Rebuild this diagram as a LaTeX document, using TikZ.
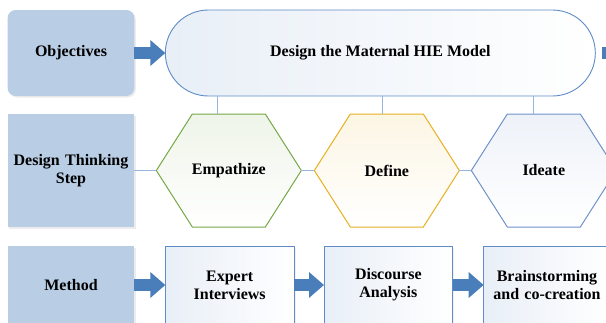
\documentclass[tikz,border=0pt]{standalone}
\usepackage{fontspec}
\setmainfont{Liberation Serif}
\usetikzlibrary{positioning, calc, shadows, arrows.meta, backgrounds}
\definecolor{headblue}{RGB}{185, 205, 229}
\definecolor{arrowblue}{RGB}{74, 126, 187}
\definecolor{outlineblue}{RGB}{95, 140, 198}
\definecolor{linkblue}{RGB}{150, 182, 220}
\definecolor{empgreen}{RGB}{118, 168, 70}
\definecolor{defgold}{RGB}{232, 176, 32}
\definecolor{ideblue}{RGB}{112, 146, 200}
\tikzstyle{rowhead} = [rectangle, minimum width=126pt, text centered, text width=120pt, outer sep=0pt, fill=headblue, drop shadow={opacity=0.15, shadow xshift=1.5pt, shadow yshift=-1.5pt}, font=\bfseries\fontsize{16}{18}\selectfont]
\tikzstyle{goal} = [rectangle, rounded corners=43pt, minimum width=430pt, minimum height=86pt, outer sep=0pt, draw=outlineblue, line width=0.9pt, left color=outlineblue!14, right color=white, font=\bfseries\fontsize{16}{18}\selectfont]
\tikzstyle{phase} = [rectangle, minimum width=145pt, minimum height=113pt, outer sep=0pt, font=\bfseries\fontsize{16}{18}\selectfont]
\tikzstyle{method} = [rectangle, minimum width=127pt, minimum height=78pt, text centered, text width=122pt, outer sep=0pt, draw=outlineblue, line width=0.9pt, left color=outlineblue!14, right color=white, drop shadow={opacity=0.12, shadow xshift=1.5pt, shadow yshift=-1.5pt}, font=\bfseries\fontsize{16}{18}\selectfont]
\tikzstyle{blockarrow} = [line width=12pt, draw=arrowblue, -{Triangle[width=25pt, length=15pt]}]
\tikzstyle{link} = [draw=linkblue, line width=1.2pt]

\begin{document}
\begin{tikzpicture}[x=1pt, y=1pt]
    \useasboundingbox (0,0) rectangle (606,-322);
    \clip (0,0) rectangle (606,-322);

    % left column
    \node[rowhead, rounded corners=8pt, minimum height=86pt] (obj) at (71,-53) {Objectives};
    \node[rowhead, minimum height=113pt, below=18pt of obj] (dts) {Design Thinking\\Step};
    \node[rowhead, minimum height=78pt, below=19pt of dts] (meth) {Method};

    % top row
    \node[goal, right=31pt of obj] (model) {Design the Maternal HIE Model};

    % design thinking steps
    \node[phase, right=22pt of dts] (emp) {Empathize};
    \node[phase, right=13pt of emp] (def) {Define};
    \node[phase, right=12pt of def] (ide) {Ideate};
    \begin{scope}[on background layer]
      \foreach \h/\c in {emp/empgreen, def/defgold, ide/ideblue}
        \shade[draw=\c, line width=1pt, top color=\c!12, bottom color=white]
          (\h.west) -- ($(\h.north west)+(36,0)$) -- ($(\h.north east)+(-36,0)$)
          -- (\h.east) -- ($(\h.south east)+(-36,0)$) -- ($(\h.south west)+(36,0)$) -- cycle;
    \end{scope}

    % methods
    \node[method, right=31pt of meth] (expert) {Expert\\Interviews};
    \node[method, right=30pt of expert] (disc) {Discourse\\Analysis};
    \node[method, right=31pt of disc, minimum width=123pt, text width=120pt] (brain) {Brainstorming\\and co-creation};

    \coordinate (empup) at ($(emp.north)+(-11,0)$);
    \coordinate (defup) at ($(def.north)+(-4,0)$);
    \coordinate (ideup) at ($(ide.north)+(-10,0)$);
    \coordinate (modelout) at ($(model.east)+(40,0)$);
    \coordinate (brainout) at ($(brain.east)+(40,0)$);

    \draw[link] (empup) -- (empup |- model.south);
    \draw[link] (defup) -- (defup |- model.south);
    \draw[link] (ideup) -- (ideup |- model.south);
    \draw[link] (dts) -- (emp);
    \draw[link] (emp) -- (def);
    \draw[link] (def) -- (ide);

    \draw[blockarrow] (obj) -- (model);
    \draw[blockarrow, shorten <=7pt] (model.east) -- (modelout);
    \draw[blockarrow] (meth) -- (expert);
    \draw[blockarrow] (expert) -- (disc);
    \draw[blockarrow] (disc) -- (brain);
    \draw[blockarrow, shorten <=3pt] (brain.east) -- (brainout);
\end{tikzpicture}
\end{document}
